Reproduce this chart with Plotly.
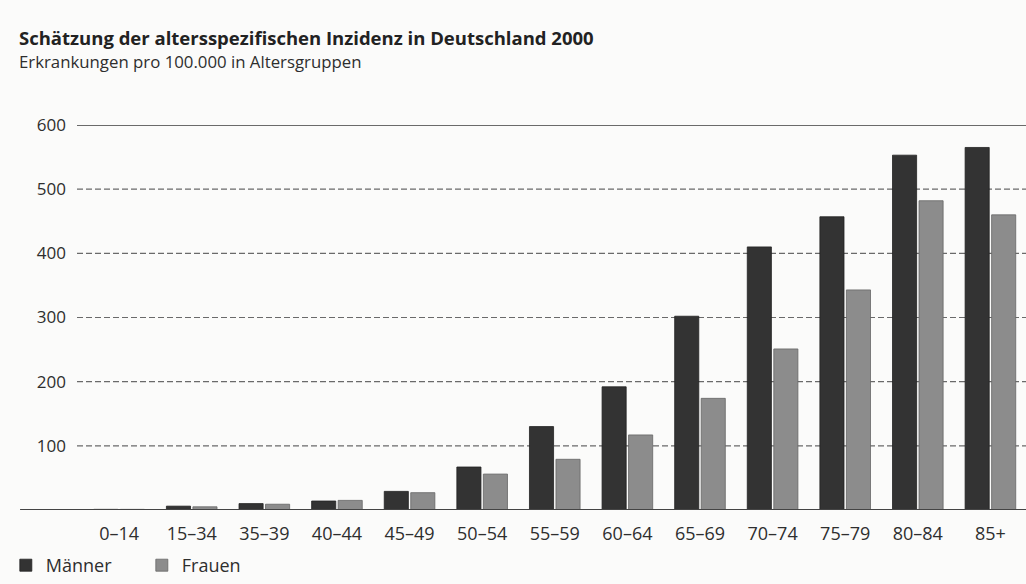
import plotly.graph_objects as go

categories = ["0–14", "15–34", "35–39", "40–44", "45–49", "50–54", "55–59",
              "60–64", "65–69", "70–74", "75–79", "80–84", "85+"]
maenner = [1, 6, 10, 14, 29, 67, 130, 192, 302, 410, 457, 553, 565]
frauen = [1, 5, 9, 15, 27, 56, 79, 117, 174, 251, 343, 482, 460]
y_ticks = [100, 200, 300, 400, 500, 600]

title = "Schätzung der altersspezifischen Inzidenz in Deutschland 2000"
subtitle = "Erkrankungen pro 100.000 in Altersgruppen"

FONT = "Open Sans"
TXT = "#2e2e2e"
BG = "#fbfbfa"

fig = go.Figure()
fig.add_trace(go.Bar(x=categories, y=maenner, name="Männer",
                     marker=dict(color="#333333", line=dict(color="#222222", width=0.8))))
fig.add_trace(go.Bar(x=categories, y=frauen, name="Frauen",
                     marker=dict(color="#8c8c8c", line=dict(color="#666666", width=0.8))))

shapes = []
for v in y_ticks:
    solid = v == 600
    shapes.append(dict(type="line", xref="paper", yref="y", x0=0, x1=1, y0=v, y1=v,
                       layer="below",
                       line=dict(color="#3a3a3a" if solid else "#6a6a6a",
                                 width=1.6 if solid else 1.2,
                                 dash="solid" if solid else "6px,3px")))
# baseline extending to the left
shapes.append(dict(type="line", xref="paper", yref="y", x0=-0.06, x1=1, y0=0, y1=0,
                   layer="above", line=dict(color="#444444", width=2)))

fig.update_layout(
    width=1026, height=584,
    margin=dict(l=77, r=0, t=125, b=73),
    paper_bgcolor=BG, plot_bgcolor=BG,
    font=dict(family=FONT, color=TXT, size=18),
    barmode="group", bargap=0.27, bargroupgap=0.09,
    showlegend=True,
    legend=dict(orientation="h", x=-0.075, xanchor="left", y=-0.145, yanchor="middle",
                font=dict(size=18, color=TXT), bgcolor="rgba(0,0,0,0)",
                itemwidth=30, traceorder="normal",
                entrywidth=91, entrywidthmode="pixels"),
    shapes=shapes,
    annotations=[
        dict(text="<b>" + title + "</b>", xref="paper", yref="paper", x=-0.063, y=1.226,
             xanchor="left", yanchor="middle", showarrow=False,
             font=dict(size=18.5, color="#222222", family=FONT)),
        dict(text=subtitle, xref="paper", yref="paper", x=-0.063, y=1.166,
             xanchor="left", yanchor="middle", showarrow=False,
             font=dict(size=16.8, color=TXT, family=FONT)),
    ],
)
fig.update_xaxes(range=[-0.58, 12.49], showgrid=False, zeroline=False, showline=False,
                 ticks="", tickfont=dict(size=18), ticklabelstandoff=11)
fig.update_yaxes(range=[0, 600], tickvals=y_ticks, showgrid=False, zeroline=False,
                 showline=False, ticks="", tickfont=dict(size=17), ticklabelstandoff=10)

fig.write_html("out.html")
